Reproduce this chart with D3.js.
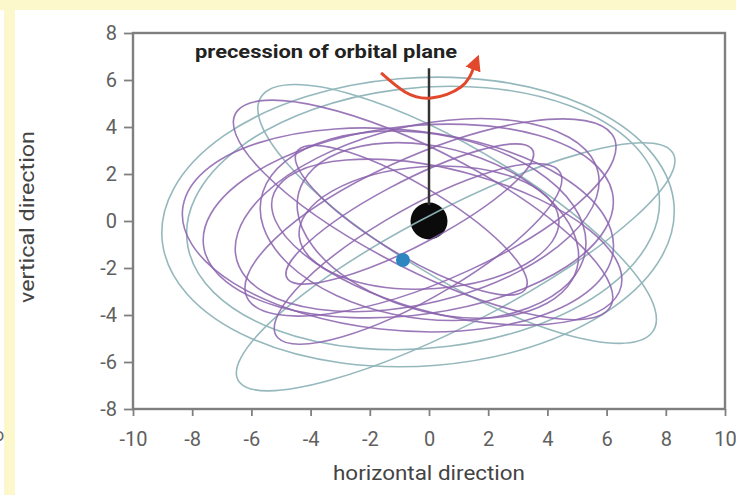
<!DOCTYPE html>
<html>
<head>
<meta charset="utf-8">
<script src="https://cdn.jsdelivr.net/npm/d3@7"></script>
<style>
  html, body { margin: 0; padding: 0; background: #ffffff; }
  svg { display: block; }
</style>
</head>
<body>
<svg id="chart" width="736" height="495"></svg>
<script>
// Axis ticks and labels
const xTicks = [-10, -8, -6, -4, -2, 0, 2, 4, 6, 8, 10];
const xTickLabels = ["-10", "-8", "-6", "-4", "-2", "0", "2", "4", "6", "8", "10"];
const yTicks = [-8, -6, -4, -2, 0, 2, 4, 6, 8];
const yTickLabels = ["-8", "-6", "-4", "-2", "0", "2", "4", "6", "8"];

// Orbit loops: [centre x, centre y, semi-axis 1, semi-axis 2, tilt in degrees]
const earlyLoops = [
  [-0.37, -0.04, 8.68, 6.13, 6],
  [-0.20,  0.13, 8.04, 5.53, 9],
  [ 0.95,  0.30, 8.30, 2.60, -38],
  [ 0.90, -1.95, 8.80, 2.30, 34]
];
const lateLoops = [
  [-1.05, -0.38, 7.33, 4.26, -8],
  [-0.70,  0.00, 7.00, 4.00, 10],
  [-0.40,  0.25, 6.40, 3.70, 20],
  [-0.20, -0.20, 5.60, 3.90, -15],
  [ 0.30, -0.40, 5.00, 3.40, -25],
  [-0.65,  0.30, 4.97, 1.30, 34],
  [-0.60,  0.03, 4.85, 1.40, -38],
  [ 0.05,  0.15, 7.08, 2.60, 30],
  [-0.20,  0.47, 7.56, 2.40, -34],
  [ 0.00, -0.28, 4.40, 2.60, 5],
  [-0.37, -1.40, 5.93, 1.80, 37],
  [ 0.60, -0.90, 6.20, 3.00, -20]
];

// Central mass and the star's current position
const centralMass = [0, 0];
const starNow = [-0.88, -1.66];

// Precession arrow path
const precessionArc = [[-1.62, 6.30], [-0.81, 5.49], [0.07, 5.23], [1.08, 5.70], [1.52, 6.55]];

const svg = d3.select("#chart");
const W = 736, H = 495;

// page backdrop
svg.append("rect").attr("width", W).attr("height", H).attr("fill", "#fdf8cb");
svg.append("rect").attr("x", 15).attr("y", 10).attr("width", W - 15).attr("height", H - 10).attr("fill", "#ffffff");
svg.append("rect").attr("x", 0).attr("y", 10).attr("width", 4).attr("height", H - 10).attr("fill", "#ffffff");
svg.append("text").attr("x", -6).attr("y", 441).attr("font-family", "Roboto, sans-serif")
  .attr("font-size", 18).attr("fill", "#666").text("o");

const x = d3.scaleLinear().domain([-10, 10]).range([133, 725]);
const y = d3.scaleLinear().domain([-8, 8]).range([409, 33]);
const kx = x(1) - x(0), ky = y(0) - y(1);

const font = "Roboto, 'Noto Sans', sans-serif";

// axes
const xAxis = d3.axisBottom(x).tickValues(xTicks).tickSize(7).tickSizeOuter(0)
  .tickFormat((d, i) => xTickLabels[i]);
const yAxis = d3.axisLeft(y).tickValues(yTicks).tickSize(9).tickSizeOuter(0)
  .tickFormat((d, i) => yTickLabels[i]);

const gx = svg.append("g").attr("transform", `translate(0,${y(-8)})`).call(xAxis);
const gy = svg.append("g").attr("transform", `translate(${x(-10)},0)`).call(yAxis);
[gx, gy].forEach(g => {
  g.select(".domain").remove();
  g.selectAll(".tick line").attr("stroke", "#808080").attr("stroke-width", 1.8);
  g.selectAll(".tick text").attr("font-family", font).attr("font-size", 20).attr("fill", "#606060");
});
gx.selectAll(".tick text").attr("y", 23);
gy.selectAll(".tick text").attr("x", -16);

// central mass (drawn beneath the orbits)
svg.append("circle").attr("cx", x(centralMass[0])).attr("cy", y(centralMass[1]))
  .attr("r", 18.5).attr("fill", "#0b0b0b");

// orbit loops in data space
const orbitLayer = svg.append("g")
  .attr("transform", `translate(${x(0)},${y(0)}) scale(${kx},${-ky})`);

function drawLoops(data, color, width, opacity) {
  orbitLayer.append("g").selectAll("ellipse").data(data).join("ellipse")
    .attr("transform", d => `translate(${d[0]},${d[1]}) rotate(${d[4]})`)
    .attr("rx", d => d[2]).attr("ry", d => d[3])
    .attr("fill", "none").attr("stroke", color).attr("stroke-width", width)
    .attr("stroke-opacity", opacity)
    .attr("vector-effect", "non-scaling-stroke");
}
drawLoops(earlyLoops, "#8fb4b9", 1.6, 0.95);
drawLoops(lateLoops, "#8a62ad", 1.6, 0.85);

// frame
svg.append("rect").attr("x", x(-10)).attr("y", y(8))
  .attr("width", x(10) - x(-10)).attr("height", y(-8) - y(8))
  .attr("fill", "none").attr("stroke", "#7f7f7f").attr("stroke-width", 2.4);

// pointer from the central mass up to the caption
svg.append("line").attr("x1", x(0)).attr("x2", x(0))
  .attr("y1", y(6.5)).attr("y2", y(0) - 16)
  .attr("stroke", "#333").attr("stroke-width", 2.5);

// precession arrow
const defs = svg.append("defs");
defs.append("marker").attr("id", "head").attr("viewBox", "0 -6 12 12")
  .attr("refX", 2).attr("refY", 0).attr("markerWidth", 16).attr("markerHeight", 18)
  .attr("markerUnits", "userSpaceOnUse").attr("orient", "auto")
  .append("path").attr("d", "M0,-6L12,0L0,6Z").attr("fill", "#e2482c");

svg.append("path")
  .attr("d", d3.line().x(d => x(d[0])).y(d => y(d[1])).curve(d3.curveNatural)(precessionArc))
  .attr("fill", "none").attr("stroke", "#e2482c").attr("stroke-width", 3)
  .attr("marker-end", "url(#head)");

svg.append("text").attr("x", 195).attr("y", 58)
  .attr("font-family", font).attr("font-weight", 700).attr("font-size", 18)
  .attr("textLength", 262).attr("lengthAdjust", "spacingAndGlyphs")
  .attr("fill", "#222").text("precession of orbital plane");

// current star position
svg.append("circle").attr("cx", x(starNow[0])).attr("cy", y(starNow[1]))
  .attr("r", 7).attr("fill", "#2e86c1");

// axis titles
svg.append("text").attr("x", x(0)).attr("y", 480).attr("text-anchor", "middle")
  .attr("font-family", font).attr("font-size", 20).attr("fill", "#444")
  .attr("textLength", 192).attr("lengthAdjust", "spacingAndGlyphs")
  .text("horizontal direction");
svg.append("text").attr("transform", `translate(34,217) rotate(-90)`)
  .attr("text-anchor", "middle")
  .attr("font-family", font).attr("font-size", 20).attr("fill", "#444")
  .attr("textLength", 172).attr("lengthAdjust", "spacingAndGlyphs")
  .text("vertical direction");
</script>
</body>
</html>
